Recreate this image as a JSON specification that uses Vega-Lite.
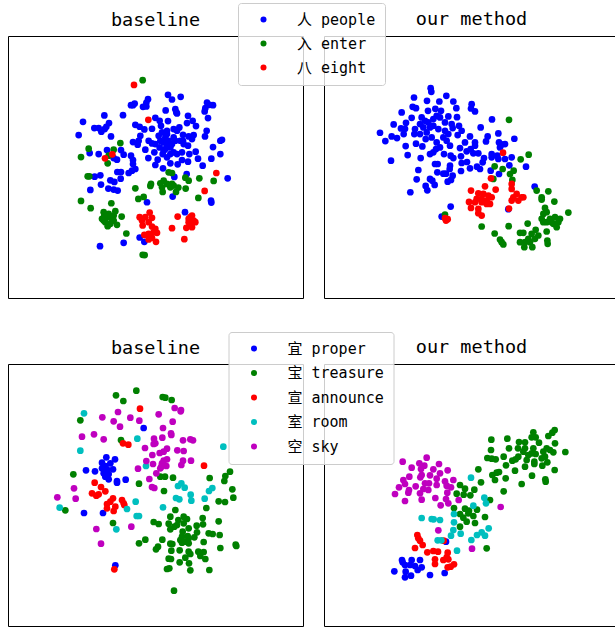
{"$schema":"https://vega.github.io/schema/vega-lite/v6.json","padding":{"left":7,"top":2,"right":0,"bottom":0},"background":"white","bounds":"flush","columns":2,"spacing":{"row":66,"column":21},"config":{"view":{"stroke":"#000","strokeWidth":1},"title":{"font":"DejaVu Sans Mono, Noto Sans CJK SC","fontSize":18.5,"fontWeight":"normal","offset":7,"color":"#000"},"legend":{"labelFont":"DejaVu Sans Mono, Noto Sans CJK SC","labelFontSize":15,"labelColor":"#000","fillColor":"rgba(255,255,255,0.8)","strokeColor":"#ccc","cornerRadius":3,"padding":9,"symbolType":"circle","symbolSize":36,"symbolStrokeWidth":0,"symbolOffset":9,"labelOffset":26,"rowPadding":8,"title":null,"orient":"none","zindex":1}},"datasets":{"a":[{"x":248,"y":363},{"x":235,"y":403},{"x":312,"y":344},{"x":282,"y":382},{"x":295,"y":382},{"x":303,"y":393},{"x":313,"y":385},{"x":326,"y":367},{"x":318,"y":378},{"x":332,"y":407},{"x":368,"y":343},{"x":398,"y":313},{"x":403,"y":308},{"x":392,"y":313},{"x":443,"y":295},{"x":438,"y":306},{"x":428,"y":318},{"x":438,"y":317},{"x":503,"y":282},{"x":515,"y":296},{"x":541,"y":288},{"x":496,"y":329},{"x":525,"y":325},{"x":530,"y":338},{"x":528,"y":335},{"x":620,"y":305},{"x":628,"y":312},{"x":638,"y":313},{"x":615,"y":322},{"x":613,"y":332},{"x":623,"y":352},{"x":563,"y":345},{"x":577,"y":360},{"x":560,"y":367},{"x":587,"y":376},{"x":619,"y":390},{"x":614,"y":407},{"x":660,"y":420},{"x":665,"y":417},{"x":638,"y":439},{"x":660,"y":460},{"x":633,"y":474},{"x":607,"y":495},{"x":682,"y":533},{"x":632,"y":600},{"x":633,"y":606},{"x":554,"y":635},{"x":517,"y":588},{"x":559,"y":520},{"x":522,"y":529},{"x":440,"y":605},{"x":418,"y":711},{"x":432,"y":724},{"x":370,"y":727},{"x":299,"y":737},{"x":270,"y":568},{"x":302,"y":552},{"x":324,"y":564},{"x":340,"y":567},{"x":352,"y":570},{"x":330,"y":539},{"x":342,"y":544},{"x":361,"y":534},{"x":351,"y":514},{"x":362,"y":514},{"x":385,"y":517},{"x":395,"y":510},{"x":405,"y":505},{"x":398,"y":490},{"x":398,"y":478},{"x":392,"y":465},{"x":370,"y":462},{"x":362,"y":448},{"x":350,"y":477},{"x":340,"y":472},{"x":320,"y":448},{"x":295,"y":460},{"x":268,"y":457},{"x":283,"y":528},{"x":300,"y":524},{"x":405,"y":372},{"x":418,"y":378},{"x":432,"y":386},{"x":455,"y":384},{"x":465,"y":351},{"x":478,"y":360},{"x":482,"y":375},{"x":503,"y":361},{"x":500,"y":390},{"x":485,"y":395},{"x":520,"y":385},{"x":537,"y":380},{"x":530,"y":390},{"x":548,"y":402},{"x":565,"y":407},{"x":580,"y":403},{"x":575,"y":415},{"x":420,"y":405},{"x":415,"y":420},{"x":398,"y":424},{"x":412,"y":432},{"x":435,"y":447},{"x":445,"y":420},{"x":455,"y":428},{"x":465,"y":430},{"x":462,"y":455},{"x":444,"y":472},{"x":472,"y":477},{"x":465,"y":493},{"x":488,"y":503},{"x":510,"y":488},{"x":532,"y":491},{"x":545,"y":478},{"x":563,"y":483},{"x":593,"y":474},{"x":586,"y":453},{"x":567,"y":460},{"x":563,"y":435},{"x":550,"y":430},{"x":545,"y":455},{"x":530,"y":460},{"x":510,"y":440},{"x":495,"y":445},{"x":505,"y":420},{"x":520,"y":410},{"x":490,"y":425},{"x":480,"y":420},{"x":500,"y":400},{"x":525,"y":420},{"x":540,"y":420},{"x":478,"y":440},{"x":487,"y":460},{"x":500,"y":470},{"x":520,"y":455},{"x":500,"y":435},{"x":515,"y":430},{"x":490,"y":450},{"x":510,"y":460},{"x":475,"y":405},{"x":495,"y":410},{"x":548,"y":420},{"x":427,"y":238,"k":1},{"x":360,"y":427,"k":1},{"x":265,"y":444,"k":1},{"x":340,"y":447,"k":1},{"x":242,"y":469,"k":1},{"x":322,"y":488,"k":1},{"x":325,"y":465,"k":1},{"x":262,"y":527,"k":1},{"x":267,"y":527,"k":1},{"x":405,"y":563,"k":1},{"x":414,"y":595,"k":1},{"x":430,"y":589,"k":1},{"x":452,"y":550,"k":1},{"x":450,"y":556,"k":1},{"x":505,"y":515,"k":1},{"x":515,"y":517,"k":1},{"x":555,"y":531,"k":1},{"x":565,"y":540,"k":1},{"x":597,"y":533,"k":1},{"x":640,"y":541,"k":1},{"x":556,"y":564,"k":1},{"x":594,"y":592,"k":1},{"x":534,"y":561,"k":1},{"x":527,"y":574,"k":1},{"x":480,"y":548,"k":1},{"x":490,"y":540,"k":1},{"x":500,"y":550,"k":1},{"x":515,"y":550,"k":1},{"x":485,"y":560,"k":1},{"x":487,"y":574,"k":1},{"x":510,"y":560,"k":1},{"x":520,"y":555,"k":1},{"x":242,"y":601,"k":1},{"x":271,"y":623,"k":1},{"x":333,"y":608,"k":1},{"x":364,"y":648,"k":1},{"x":378,"y":699,"k":1},{"x":427,"y":763,"k":1},{"x":433,"y":764,"k":1},{"x":310,"y":635,"k":1},{"x":325,"y":650,"k":1},{"x":345,"y":632,"k":1},{"x":340,"y":645,"k":1},{"x":305,"y":655,"k":1},{"x":315,"y":665,"k":1},{"x":330,"y":670,"k":1},{"x":350,"y":673,"k":1},{"x":322,"y":677,"k":1},{"x":310,"y":660,"k":1},{"x":325,"y":640,"k":1},{"x":335,"y":655,"k":1},{"x":318,"y":650,"k":1},{"x":340,"y":660,"k":1},{"x":312,"y":645,"k":1},{"x":401,"y":252,"k":2},{"x":444,"y":357,"k":2},{"x":314,"y":473,"k":2},{"x":336,"y":461,"k":2},{"x":648,"y":517,"k":2},{"x":613,"y":571,"k":2},{"x":532,"y":648,"k":2},{"x":515,"y":683,"k":2},{"x":552,"y":716,"k":2},{"x":418,"y":650,"k":2},{"x":448,"y":636,"k":2},{"x":435,"y":650,"k":2},{"x":425,"y":660,"k":2},{"x":455,"y":652,"k":2},{"x":445,"y":665,"k":2},{"x":427,"y":675,"k":2},{"x":455,"y":678,"k":2},{"x":465,"y":685,"k":2},{"x":470,"y":697,"k":2},{"x":445,"y":700,"k":2},{"x":432,"y":703,"k":2},{"x":455,"y":712,"k":2},{"x":467,"y":724,"k":2},{"x":445,"y":717,"k":2},{"x":575,"y":645,"k":2},{"x":565,"y":655,"k":2},{"x":580,"y":660,"k":2},{"x":585,"y":665,"k":2},{"x":570,"y":670,"k":2},{"x":558,"y":682,"k":2},{"x":575,"y":680,"k":2},{"x":565,"y":665,"k":2},{"x":570,"y":650,"k":2},{"x":460,"y":695,"k":2}],"b":[{"x":377,"y":262},{"x":379,"y":273},{"x":327,"y":290},{"x":366,"y":300},{"x":403,"y":302},{"x":424,"y":285},{"x":445,"y":302},{"x":500,"y":310},{"x":498,"y":323},{"x":510,"y":332},{"x":454,"y":322},{"x":323,"y":318},{"x":333,"y":322},{"x":369,"y":330},{"x":391,"y":324},{"x":408,"y":330},{"x":290,"y":335},{"x":320,"y":351},{"x":430,"y":347},{"x":456,"y":349},{"x":561,"y":356},{"x":303,"y":366},{"x":266,"y":371},{"x":288,"y":383},{"x":300,"y":384},{"x":225,"y":396},{"x":241,"y":421},{"x":260,"y":407},{"x":276,"y":412},{"x":296,"y":400},{"x":302,"y":436},{"x":308,"y":463},{"x":258,"y":480},{"x":347,"y":472},{"x":352,"y":437},{"x":333,"y":429},{"x":345,"y":400},{"x":330,"y":385},{"x":328,"y":400},{"x":350,"y":350},{"x":360,"y":360},{"x":345,"y":370},{"x":370,"y":365},{"x":385,"y":355},{"x":395,"y":345},{"x":405,"y":350},{"x":375,"y":380},{"x":385,"y":375},{"x":355,"y":380},{"x":365,"y":395},{"x":380,"y":410},{"x":362,"y":415},{"x":400,"y":385},{"x":420,"y":365},{"x":440,"y":370},{"x":443,"y":382},{"x":462,"y":375},{"x":470,"y":390},{"x":458,"y":403},{"x":420,"y":390},{"x":430,"y":400},{"x":415,"y":410},{"x":425,"y":420},{"x":435,"y":435},{"x":395,"y":425},{"x":405,"y":440},{"x":393,"y":445},{"x":375,"y":460},{"x":385,"y":455},{"x":417,"y":460},{"x":437,"y":465},{"x":445,"y":472},{"x":468,"y":467},{"x":465,"y":442},{"x":480,"y":425},{"x":495,"y":407},{"x":527,"y":380},{"x":580,"y":398},{"x":548,"y":407},{"x":543,"y":422},{"x":510,"y":425},{"x":510,"y":435},{"x":485,"y":452},{"x":497,"y":445},{"x":505,"y":458},{"x":520,"y":458},{"x":537,"y":472},{"x":533,"y":485},{"x":495,"y":503},{"x":470,"y":487},{"x":486,"y":484},{"x":516,"y":498},{"x":525,"y":505},{"x":560,"y":460},{"x":577,"y":465},{"x":580,"y":475},{"x":560,"y":470},{"x":600,"y":475},{"x":620,"y":470},{"x":613,"y":494},{"x":663,"y":498},{"x":628,"y":414},{"x":582,"y":425},{"x":600,"y":430},{"x":590,"y":431},{"x":585,"y":440},{"x":557,"y":510},{"x":582,"y":520},{"x":390,"y":490},{"x":398,"y":490},{"x":435,"y":495},{"x":434,"y":505},{"x":340,"y":508},{"x":397,"y":515},{"x":415,"y":519},{"x":423,"y":519},{"x":468,"y":511},{"x":443,"y":525},{"x":428,"y":543},{"x":438,"y":538},{"x":335,"y":536},{"x":375,"y":535},{"x":382,"y":540},{"x":389,"y":553},{"x":362,"y":556},{"x":367,"y":569},{"x":316,"y":575},{"x":689,"y":558},{"x":437,"y":618},{"x":410,"y":648},{"x":610,"y":626},{"x":612,"y":357,"k":1},{"x":671,"y":462,"k":1},{"x":647,"y":476,"k":1},{"x":569,"y":497,"k":1},{"x":593,"y":505,"k":1},{"x":626,"y":510,"k":1},{"x":615,"y":520,"k":1},{"x":622,"y":538,"k":1},{"x":565,"y":535,"k":1},{"x":695,"y":570,"k":1},{"x":730,"y":572,"k":1},{"x":710,"y":590,"k":1},{"x":710,"y":597,"k":1},{"x":748,"y":603,"k":1},{"x":790,"y":636,"k":1},{"x":720,"y":622,"k":1},{"x":715,"y":640,"k":1},{"x":725,"y":635,"k":1},{"x":710,"y":655,"k":1},{"x":735,"y":655,"k":1},{"x":750,"y":650,"k":1},{"x":765,"y":655,"k":1},{"x":745,"y":670,"k":1},{"x":725,"y":665,"k":1},{"x":755,"y":680,"k":1},{"x":740,"y":665,"k":1},{"x":760,"y":665,"k":1},{"x":715,"y":665,"k":1},{"x":725,"y":693,"k":1},{"x":668,"y":669,"k":1},{"x":611,"y":677,"k":1},{"x":530,"y":678,"k":1},{"x":569,"y":699,"k":1},{"x":585,"y":717,"k":1},{"x":590,"y":725,"k":1},{"x":595,"y":732,"k":1},{"x":645,"y":697,"k":1},{"x":655,"y":697,"k":1},{"x":692,"y":688,"k":1},{"x":680,"y":700,"k":1},{"x":700,"y":705,"k":1},{"x":670,"y":715,"k":1},{"x":645,"y":725,"k":1},{"x":660,"y":725,"k":1},{"x":675,"y":725,"k":1},{"x":690,"y":715,"k":1},{"x":658,"y":740,"k":1},{"x":682,"y":740,"k":1},{"x":727,"y":720,"k":1},{"x":728,"y":730,"k":1},{"x":420,"y":642,"k":1},{"x":594,"y":456,"k":2},{"x":558,"y":533,"k":2},{"x":620,"y":550,"k":2},{"x":620,"y":565,"k":2},{"x":540,"y":557,"k":2},{"x":572,"y":567,"k":2},{"x":498,"y":570,"k":2},{"x":520,"y":578,"k":2},{"x":535,"y":580,"k":2},{"x":550,"y":585,"k":2},{"x":530,"y":595,"k":2},{"x":515,"y":595,"k":2},{"x":545,"y":600,"k":2},{"x":560,"y":590,"k":2},{"x":492,"y":604,"k":2},{"x":510,"y":605,"k":2},{"x":498,"y":622,"k":2},{"x":520,"y":625,"k":2},{"x":530,"y":645,"k":2},{"x":520,"y":638,"k":2},{"x":555,"y":610,"k":2},{"x":635,"y":580,"k":2},{"x":625,"y":590,"k":2},{"x":650,"y":590,"k":2},{"x":620,"y":600,"k":2},{"x":640,"y":600,"k":2},{"x":655,"y":590,"k":2},{"x":612,"y":624,"k":2},{"x":420,"y":653,"k":2},{"x":428,"y":656,"k":2},{"x":423,"y":660,"k":2},{"x":530,"y":605,"k":2},{"x":545,"y":610,"k":2}],"c":[{"x":318,"y":412},{"x":344,"y":418},{"x":305,"y":428},{"x":330,"y":430},{"x":315,"y":438},{"x":338,"y":448},{"x":305,"y":445},{"x":257,"y":451},{"x":284,"y":454},{"x":310,"y":460},{"x":325,"y":462},{"x":315,"y":470},{"x":325,"y":478},{"x":350,"y":483},{"x":350,"y":488},{"x":376,"y":479},{"x":430,"y":324},{"x":251,"y":579},{"x":308,"y":579},{"x":345,"y":736},{"x":320,"y":448},{"x":347,"y":226,"k":1},{"x":408,"y":212,"k":1},{"x":369,"y":243,"k":1},{"x":240,"y":301,"k":1},{"x":487,"y":231,"k":1},{"x":495,"y":233,"k":1},{"x":514,"y":240,"k":1},{"x":362,"y":360,"k":1},{"x":219,"y":463,"k":1},{"x":195,"y":571,"k":1},{"x":338,"y":609,"k":1},{"x":416,"y":491,"k":1},{"x":480,"y":470,"k":1},{"x":494,"y":470,"k":1},{"x":518,"y":473,"k":1},{"x":491,"y":513,"k":1},{"x":628,"y":474,"k":1},{"x":689,"y":455,"k":1},{"x":675,"y":468,"k":1},{"x":672,"y":483,"k":1},{"x":696,"y":508,"k":1},{"x":699,"y":533,"k":1},{"x":674,"y":546,"k":1},{"x":655,"y":544,"k":1},{"x":618,"y":564,"k":1},{"x":525,"y":570,"k":1},{"x":510,"y":590,"k":1},{"x":550,"y":590,"k":1},{"x":560,"y":597,"k":1},{"x":534,"y":600,"k":1},{"x":505,"y":611,"k":1},{"x":460,"y":606,"k":1},{"x":475,"y":612,"k":1},{"x":530,"y":615,"k":1},{"x":550,"y":610,"k":1},{"x":522,"y":620,"k":1},{"x":510,"y":628,"k":1},{"x":565,"y":625,"k":1},{"x":589,"y":617,"k":1},{"x":607,"y":594,"k":1},{"x":608,"y":613,"k":1},{"x":655,"y":604,"k":1},{"x":590,"y":637,"k":1},{"x":582,"y":652,"k":1},{"x":625,"y":640,"k":1},{"x":637,"y":642,"k":1},{"x":658,"y":645,"k":1},{"x":547,"y":635,"k":1},{"x":545,"y":650,"k":1},{"x":562,"y":648,"k":1},{"x":540,"y":660,"k":1},{"x":555,"y":665,"k":1},{"x":545,"y":668,"k":1},{"x":610,"y":666,"k":1},{"x":660,"y":684,"k":1},{"x":706,"y":674,"k":1},{"x":708,"y":678,"k":1},{"x":435,"y":659,"k":1},{"x":416,"y":670,"k":1},{"x":486,"y":659,"k":1},{"x":510,"y":671,"k":1},{"x":516,"y":672,"k":1},{"x":473,"y":680,"k":1},{"x":467,"y":688,"k":1},{"x":513,"y":692,"k":1},{"x":538,"y":691,"k":1},{"x":565,"y":670,"k":1},{"x":565,"y":695,"k":1},{"x":570,"y":702,"k":1},{"x":594,"y":695,"k":1},{"x":610,"y":696,"k":1},{"x":600,"y":708,"k":1},{"x":555,"y":713,"k":1},{"x":615,"y":717,"k":1},{"x":505,"y":716,"k":1},{"x":512,"y":717,"k":1},{"x":538,"y":727,"k":1},{"x":566,"y":730,"k":1},{"x":507,"y":745,"k":1},{"x":500,"y":747,"k":1},{"x":570,"y":751,"k":1},{"x":627,"y":750,"k":1},{"x":521,"y":812,"k":1},{"x":565,"y":655,"k":1},{"x":419,"y":266,"k":2},{"x":368,"y":370,"k":2},{"x":384,"y":374,"k":2},{"x":611,"y":437,"k":2},{"x":283,"y":488,"k":2},{"x":302,"y":501,"k":2},{"x":315,"y":514,"k":2},{"x":295,"y":523,"k":2},{"x":275,"y":520,"k":2},{"x":288,"y":527,"k":2},{"x":338,"y":535,"k":2},{"x":330,"y":545,"k":2},{"x":320,"y":552,"k":2},{"x":365,"y":540,"k":2},{"x":370,"y":550,"k":2},{"x":345,"y":560,"k":2},{"x":320,"y":565,"k":2},{"x":340,"y":573,"k":2},{"x":372,"y":555,"k":2},{"x":342,"y":748,"k":2},{"x":251,"y":280,"k":3},{"x":240,"y":392,"k":3},{"x":411,"y":356,"k":3},{"x":669,"y":380,"k":3},{"x":437,"y":438,"k":3},{"x":533,"y":498,"k":3},{"x":543,"y":490,"k":3},{"x":553,"y":503,"k":3},{"x":636,"y":504,"k":3},{"x":626,"y":513,"k":3},{"x":571,"y":524,"k":3},{"x":527,"y":534,"k":3},{"x":537,"y":538,"k":3},{"x":573,"y":542,"k":3},{"x":613,"y":536,"k":3},{"x":488,"y":562,"k":3},{"x":406,"y":545,"k":3},{"x":380,"y":567,"k":3},{"x":409,"y":588,"k":3},{"x":416,"y":588,"k":3},{"x":178,"y":563,"k":3},{"x":348,"y":628,"k":3},{"x":353,"y":276,"k":4},{"x":306,"y":292,"k":4},{"x":340,"y":304,"k":4},{"x":390,"y":293,"k":4},{"x":417,"y":302,"k":4},{"x":359,"y":320,"k":4},{"x":475,"y":283,"k":4},{"x":523,"y":264,"k":4},{"x":542,"y":270,"k":4},{"x":541,"y":274,"k":4},{"x":517,"y":305,"k":4},{"x":488,"y":324,"k":4},{"x":245,"y":350,"k":4},{"x":281,"y":343,"k":4},{"x":310,"y":358,"k":4},{"x":513,"y":345,"k":4},{"x":486,"y":353,"k":4},{"x":461,"y":356,"k":4},{"x":460,"y":372,"k":4},{"x":434,"y":384,"k":4},{"x":548,"y":361,"k":4},{"x":570,"y":358,"k":4},{"x":578,"y":361,"k":4},{"x":500,"y":386,"k":4},{"x":478,"y":399,"k":4},{"x":490,"y":395,"k":4},{"x":531,"y":391,"k":4},{"x":550,"y":393,"k":4},{"x":456,"y":405,"k":4},{"x":500,"y":418,"k":4},{"x":490,"y":422,"k":4},{"x":438,"y":423,"k":4},{"x":458,"y":432,"k":4},{"x":485,"y":430,"k":4},{"x":498,"y":438,"k":4},{"x":480,"y":445,"k":4},{"x":548,"y":422,"k":4},{"x":543,"y":435,"k":4},{"x":572,"y":422,"k":4},{"x":413,"y":446,"k":4},{"x":468,"y":460,"k":4},{"x":447,"y":477,"k":4},{"x":455,"y":501,"k":4},{"x":462,"y":504,"k":4},{"x":221,"y":505,"k":4},{"x":171,"y":532,"k":4},{"x":226,"y":536,"k":4},{"x":393,"y":620,"k":4},{"x":288,"y":627,"k":4},{"x":302,"y":671,"k":4},{"x":512,"y":340,"k":4},{"x":465,"y":370,"k":4},{"x":483,"y":440,"k":4}],"d":[{"x":291,"y":720},{"x":320,"y":720},{"x":345,"y":720},{"x":300,"y":735},{"x":315,"y":735},{"x":330,"y":738},{"x":350,"y":742},{"x":338,"y":750},{"x":268,"y":754},{"x":302,"y":755},{"x":300,"y":772},{"x":318,"y":767},{"x":375,"y":765},{"x":419,"y":759},{"x":423,"y":665},{"x":293,"y":727},{"x":559,"y":359,"k":1},{"x":607,"y":356,"k":1},{"x":642,"y":366,"k":1},{"x":660,"y":367,"k":1},{"x":685,"y":337,"k":1},{"x":680,"y":352,"k":1},{"x":692,"y":352,"k":1},{"x":702,"y":368,"k":1},{"x":749,"y":330,"k":1},{"x":742,"y":338,"k":1},{"x":730,"y":348,"k":1},{"x":750,"y":370,"k":1},{"x":781,"y":396,"k":1},{"x":558,"y":390,"k":1},{"x":612,"y":385,"k":1},{"x":639,"y":385,"k":1},{"x":660,"y":385,"k":1},{"x":685,"y":385,"k":1},{"x":725,"y":385,"k":1},{"x":735,"y":390,"k":1},{"x":745,"y":397,"k":1},{"x":715,"y":395,"k":1},{"x":720,"y":410,"k":1},{"x":680,"y":400,"k":1},{"x":692,"y":402,"k":1},{"x":655,"y":395,"k":1},{"x":640,"y":410,"k":1},{"x":622,"y":422,"k":1},{"x":632,"y":418,"k":1},{"x":596,"y":410,"k":1},{"x":547,"y":414,"k":1},{"x":560,"y":416,"k":1},{"x":572,"y":418,"k":1},{"x":603,"y":436,"k":1},{"x":665,"y":420,"k":1},{"x":660,"y":440,"k":1},{"x":688,"y":425,"k":1},{"x":688,"y":432,"k":1},{"x":712,"y":437,"k":1},{"x":727,"y":427,"k":1},{"x":749,"y":450,"k":1},{"x":630,"y":452,"k":1},{"x":582,"y":456,"k":1},{"x":575,"y":458,"k":1},{"x":562,"y":465,"k":1},{"x":570,"y":480,"k":1},{"x":602,"y":475,"k":1},{"x":681,"y":467,"k":1},{"x":721,"y":478,"k":1},{"x":722,"y":485,"k":1},{"x":650,"y":492,"k":1},{"x":596,"y":514,"k":1},{"x":520,"y":448,"k":1},{"x":528,"y":487,"k":1},{"x":465,"y":495,"k":1},{"x":480,"y":506,"k":1},{"x":508,"y":509,"k":1},{"x":455,"y":521,"k":1},{"x":476,"y":524,"k":1},{"x":496,"y":526,"k":1},{"x":555,"y":540,"k":1},{"x":447,"y":564,"k":1},{"x":480,"y":566,"k":1},{"x":516,"y":569,"k":1},{"x":492,"y":572,"k":1},{"x":465,"y":582,"k":1},{"x":490,"y":580,"k":1},{"x":505,"y":588,"k":1},{"x":475,"y":593,"k":1},{"x":485,"y":605,"k":1},{"x":540,"y":591,"k":1},{"x":510,"y":609,"k":1},{"x":465,"y":620,"k":1},{"x":545,"y":685,"k":1},{"x":670,"y":405,"k":1},{"x":710,"y":415,"k":1},{"x":337,"y":645,"k":2},{"x":340,"y":655,"k":2},{"x":345,"y":662,"k":2},{"x":353,"y":675,"k":2},{"x":330,"y":684,"k":2},{"x":367,"y":697,"k":2},{"x":385,"y":693,"k":2},{"x":399,"y":695,"k":2},{"x":416,"y":662,"k":2},{"x":428,"y":698,"k":2},{"x":415,"y":720,"k":2},{"x":425,"y":712,"k":2},{"x":430,"y":718,"k":2},{"x":390,"y":718,"k":2},{"x":390,"y":732,"k":2},{"x":447,"y":733,"k":2},{"x":437,"y":740,"k":2},{"x":428,"y":742,"k":2},{"x":498,"y":473,"k":3},{"x":538,"y":533,"k":3},{"x":543,"y":550,"k":3},{"x":505,"y":557,"k":3},{"x":350,"y":594,"k":3},{"x":380,"y":597,"k":3},{"x":386,"y":598,"k":3},{"x":405,"y":600,"k":3},{"x":447,"y":582,"k":3},{"x":447,"y":607,"k":3},{"x":445,"y":630,"k":3},{"x":551,"y":625,"k":3},{"x":438,"y":647,"k":3},{"x":467,"y":641,"k":3},{"x":530,"y":637,"k":3},{"x":516,"y":645,"k":3},{"x":540,"y":647,"k":3},{"x":499,"y":660,"k":3},{"x":398,"y":661,"k":3},{"x":409,"y":661,"k":3},{"x":456,"y":692,"k":3},{"x":293,"y":425,"k":4},{"x":365,"y":413,"k":4},{"x":320,"y":443,"k":4},{"x":343,"y":430,"k":4},{"x":358,"y":437,"k":4},{"x":402,"y":432,"k":4},{"x":348,"y":447,"k":4},{"x":385,"y":448,"k":4},{"x":428,"y":451,"k":4},{"x":405,"y":460,"k":4},{"x":313,"y":470,"k":4},{"x":346,"y":472,"k":4},{"x":375,"y":466,"k":4},{"x":395,"y":476,"k":4},{"x":295,"y":480,"k":4},{"x":300,"y":492,"k":4},{"x":360,"y":490,"k":4},{"x":372,"y":490,"k":4},{"x":420,"y":484,"k":4},{"x":445,"y":480,"k":4},{"x":282,"y":502,"k":4},{"x":332,"y":499,"k":4},{"x":395,"y":495,"k":4},{"x":425,"y":497,"k":4},{"x":438,"y":502,"k":4},{"x":312,"y":510,"k":4},{"x":355,"y":507,"k":4},{"x":370,"y":510,"k":4},{"x":345,"y":520,"k":4},{"x":427,"y":518,"k":4},{"x":270,"y":522,"k":4},{"x":300,"y":543,"k":4},{"x":350,"y":539,"k":4},{"x":391,"y":534,"k":4},{"x":423,"y":537,"k":4},{"x":461,"y":540,"k":4},{"x":430,"y":550,"k":4},{"x":407,"y":556,"k":4},{"x":587,"y":561,"k":4},{"x":400,"y":631,"k":4},{"x":501,"y":686,"k":4},{"x":310,"y":518,"k":4},{"x":350,"y":465,"k":4}]},"concat":[{"title":"baseline","width":295,"height":262,"data":{"name":"a"},"transform":[{"lookup":"k","from":{"data":{"values":[{"k":1,"n":"入 enter"},{"k":2,"n":"八 eight"}]},"key":"k","fields":["n"]},"default":"人 people"}],"mark":{"type":"point","filled":true,"size":45,"opacity":1},"encoding":{"x":{"field":"x","type":"quantitative","axis":null,"scale":{"domain":[23,908]}},"y":{"field":"y","type":"quantitative","axis":null,"scale":{"domain":[893,105]}},"color":{"field":"n","type":"nominal","legend":null,"scale":{"domain":["人 people","入 enter","八 eight"],"range":["#0000ff","#008000","#ff0000"]}}}},{"title":{"text":"our method","offset":-26},"width":295,"height":262,"data":{"name":"b"},"transform":[{"lookup":"k","from":{"data":{"values":[{"k":1,"n":"入 enter"},{"k":2,"n":"八 eight"}]},"key":"k","fields":["n"]},"default":"人 people"}],"mark":{"type":"point","filled":true,"size":45,"opacity":1},"encoding":{"x":{"field":"x","type":"quantitative","axis":null,"scale":{"domain":[57,942]}},"y":{"field":"y","type":"quantitative","axis":null,"scale":{"domain":[893,105]}},"color":{"field":"n","type":"nominal","legend":{"orient":"none","legendX":-86,"legendY":-33},"scale":{"domain":["人 people","入 enter","八 eight"],"range":["#0000ff","#008000","#ff0000"]}}}},{"title":"baseline","width":295,"height":262,"data":{"name":"c"},"transform":[{"lookup":"k","from":{"data":{"values":[{"k":1,"n":"宝 treasure"},{"k":2,"n":"宣 announce"},{"k":3,"n":"室 room"},{"k":4,"n":"空 sky"}]},"key":"k","fields":["n"]},"default":"宜 proper"}],"mark":{"type":"point","filled":true,"size":45,"opacity":1},"encoding":{"x":{"field":"x","type":"quantitative","axis":null,"scale":{"domain":[23,908]}},"y":{"field":"y","type":"quantitative","axis":null,"scale":{"domain":[918,132]}},"color":{"field":"n","type":"nominal","legend":null,"scale":{"domain":["宜 proper","宝 treasure","宣 announce","室 room","空 sky"],"range":["#0000ff","#008000","#ff0000","#00bfbf","#bf00bf"]}}}},{"title":{"text":"our method","offset":-25},"width":295,"height":262,"data":{"name":"d"},"transform":[{"lookup":"k","from":{"data":{"values":[{"k":1,"n":"宝 treasure"},{"k":2,"n":"宣 announce"},{"k":3,"n":"室 room"},{"k":4,"n":"空 sky"}]},"key":"k","fields":["n"]},"default":"宜 proper"}],"mark":{"type":"point","filled":true,"size":45,"opacity":1},"encoding":{"x":{"field":"x","type":"quantitative","axis":null,"scale":{"domain":[57,942]}},"y":{"field":"y","type":"quantitative","axis":null,"scale":{"domain":[918,132]}},"color":{"field":"n","type":"nominal","legend":{"orient":"none","legendX":-95.5,"legendY":-32,"rowPadding":8.5},"scale":{"domain":["宜 proper","宝 treasure","宣 announce","室 room","空 sky"],"range":["#0000ff","#008000","#ff0000","#00bfbf","#bf00bf"]}}}}],"resolve":{"scale":{"color":"independent"},"legend":{"color":"independent"}}}
